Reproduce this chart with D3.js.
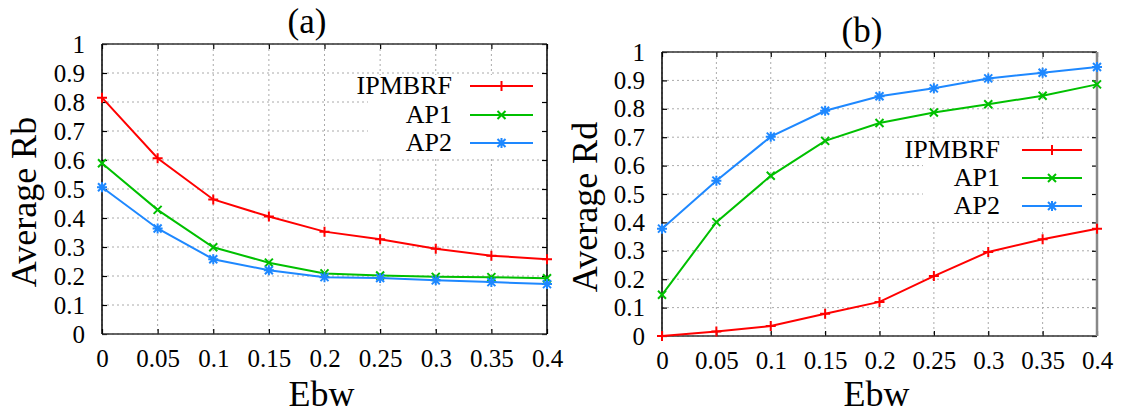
<!DOCTYPE html>
<html><head><meta charset="utf-8">
<script src="https://cdn.jsdelivr.net/npm/d3@7"></script>
<style>body{margin:0;background:#fff}svg{display:block}text{font-family:"Liberation Serif","Times New Roman",Times,serif;fill:#000}</style>
</head><body>
<svg id="c" width="1125" height="415"></svg>
<script>
const ebw = [0, 0.05, 0.1, 0.15, 0.2, 0.25, 0.3, 0.35, 0.4];
const xTickLabels = ["0","0.05","0.1","0.15","0.2","0.25","0.3","0.35","0.4"];
const yTicks = [0,0.1,0.2,0.3,0.4,0.5,0.6,0.7,0.8,0.9,1];
const yTickLabels = ["0","0.1","0.2","0.3","0.4","0.5","0.6","0.7","0.8","0.9","1"];
const seriesNames = ["IPMBRF","AP1","AP2"];
const rbIPMBRF = [0.815,0.606,0.464,0.405,0.353,0.327,0.294,0.270,0.258];
const rbAP1    = [0.589,0.428,0.299,0.246,0.209,0.202,0.197,0.196,0.192];
const rbAP2    = [0.506,0.364,0.258,0.220,0.196,0.193,0.185,0.179,0.172];
const rdIPMBRF = [0.000,0.016,0.035,0.078,0.120,0.211,0.296,0.341,0.378];
const rdAP1    = [0.145,0.401,0.564,0.687,0.750,0.787,0.816,0.846,0.886];
const rdAP2    = [0.378,0.547,0.702,0.793,0.844,0.872,0.907,0.927,0.947];

const colors = ["#ff0000","#00c000","#1e88ff"];
const markers = ["plus","cross","star"];
const FONT = '"Liberation Serif","Times New Roman",Times,serif';
const svg = d3.select("#c");

function marker(g, type, x, y, color){
  const s = 5;
  const p = d3.path();
  if(type==="plus"||type==="star"){p.moveTo(x-s,y);p.lineTo(x+s,y);p.moveTo(x,y-s);p.lineTo(x,y+s);}
  if(type==="cross"||type==="star"){const t=s*0.8;p.moveTo(x-t,y-t);p.lineTo(x+t,y+t);p.moveTo(x-t,y+t);p.lineTo(x+t,y-t);}
  g.append("path").attr("d",p.toString()).attr("stroke",color).attr("stroke-width",2).attr("fill","none");
}

function panel(cfg){
  const x = d3.scaleLinear().domain([0,0.4]).range([cfg.l,cfg.r]);
  const y = d3.scaleLinear().domain([0,1]).range([cfg.b,cfg.t]);
  const g = svg.append("g").attr("font-family",FONT);
  const grid = g.append("g");
  ebw.forEach(v=>{ grid.append("line").attr("x1",x(v)).attr("x2",x(v)).attr("y1",cfg.t).attr("y2",cfg.b)
     .attr("stroke","#aaa").attr("stroke-width",1).attr("stroke-dasharray","2,3"); });
  yTicks.forEach(v=>{ grid.append("line").attr("x1",cfg.l).attr("x2",cfg.r).attr("y1",y(v)).attr("y2",y(v))
     .attr("stroke","#aaa").attr("stroke-width",1).attr("stroke-dasharray","2,3"); });
  g.append("rect").attr("x",cfg.boxX).attr("y",cfg.boxY0).attr("width",cfg.r-cfg.boxX).attr("height",cfg.boxY1-cfg.boxY0).attr("fill","#fff");
  const yAxis = d3.axisLeft(y).tickValues(yTicks).tickFormat((d,i)=>yTickLabels[i]).tickSize(-5).tickPadding(17);
  const ya = g.append("g").attr("transform",`translate(${cfg.l},0)`).call(yAxis);
  const xAxis = d3.axisBottom(x).tickValues(ebw).tickFormat((d,i)=>xTickLabels[i]).tickSize(-5).tickPadding(22);
  const xa = g.append("g").attr("transform",`translate(0,${cfg.b})`).call(xAxis);
  const yr = g.append("g").attr("transform",`translate(${cfg.r},0)`).call(d3.axisRight(y).tickValues(yTicks).tickFormat("").tickSize(-5));
  const xt = g.append("g").attr("transform",`translate(0,${cfg.t})`).call(d3.axisTop(x).tickValues(ebw).tickFormat("").tickSize(-5));
  [ya,xa,yr,xt].forEach(a=>{a.attr("font-family",FONT).attr("font-size",25); a.select(".domain").remove();
     a.selectAll(".tick line").attr("stroke","#000").attr("stroke-width",1.2);
     a.selectAll("text").attr("font-size",25).attr("font-family",FONT);});
  xa.selectAll("text").attr("dy","0.45em");
  g.append("line").attr("x1",cfg.l).attr("x2",cfg.r).attr("y1",cfg.t).attr("y2",cfg.t).attr("stroke","#333").attr("stroke-width",1.5);
  g.append("line").attr("x1",cfg.l).attr("x2",cfg.r).attr("y1",cfg.b).attr("y2",cfg.b).attr("stroke","#333").attr("stroke-width",1.5);
  g.append("line").attr("x1",cfg.l).attr("x2",cfg.l).attr("y1",cfg.t).attr("y2",cfg.b).attr("stroke","#000").attr("stroke-width",1.5);
  g.append("line").attr("x1",cfg.r).attr("x2",cfg.r).attr("y1",cfg.t).attr("y2",cfg.b).attr("stroke",cfg.rightColor).attr("stroke-width",cfg.rightW);
  const line = d3.line().x((d,i)=>x(ebw[i])).y(d=>y(d));
  cfg.series.forEach((s,k)=>{
    g.append("path").datum(s).attr("d",line).attr("fill","none").attr("stroke",colors[k]).attr("stroke-width",2);
    s.forEach((v,i)=>marker(g,markers[k],x(ebw[i]),y(v),colors[k]));
  });
  seriesNames.forEach((n,k)=>{
    const ry = cfg.legY[k];
    g.append("text").attr("x",cfg.legText).attr("y",ry+8).attr("text-anchor","end").attr("font-size",26).text(n);
    g.append("line").attr("x1",cfg.legL1).attr("x2",cfg.legL2).attr("y1",ry).attr("y2",ry).attr("stroke",colors[k]).attr("stroke-width",2);
    marker(g,markers[k],(cfg.legL1+cfg.legL2)/2,ry,colors[k]);
  });
  g.append("text").attr("x",cfg.titleX).attr("y",cfg.titleY).attr("text-anchor","middle").attr("font-size",35).text(cfg.title);
  g.append("text").attr("x",(cfg.l+cfg.r)/2-3).attr("y",406).attr("text-anchor","middle").attr("font-size",36).text("Ebw");
  g.append("text").attr("transform",`translate(${cfg.ylabX},${cfg.ylabY}) rotate(-90)`).attr("text-anchor","middle").attr("font-size",36).text(cfg.ylab);
}

panel({l:102,r:547,t:44,b:334,series:[rbIPMBRF,rbAP1,rbAP2],boxX:368,boxY0:75,boxY1:156,
  legY:[86,115,143],legText:452,legL1:470,legL2:533,title:"(a)",titleX:307,titleY:33,
  ylab:"Average Rb",ylabX:36,ylabY:202,rightColor:"#000",rightW:1.5});
panel({l:662,r:1097,t:52,b:336,series:[rdIPMBRF,rdAP1,rdAP2],boxX:923,boxY0:139,boxY1:219,
  legY:[150,178,206],legText:1000,legL1:1022,legL2:1082,title:"(b)",titleX:862,titleY:42,
  ylab:"Average Rd",ylabX:597,ylabY:207,rightColor:"#888",rightW:2.5});
</script>
</body></html>
